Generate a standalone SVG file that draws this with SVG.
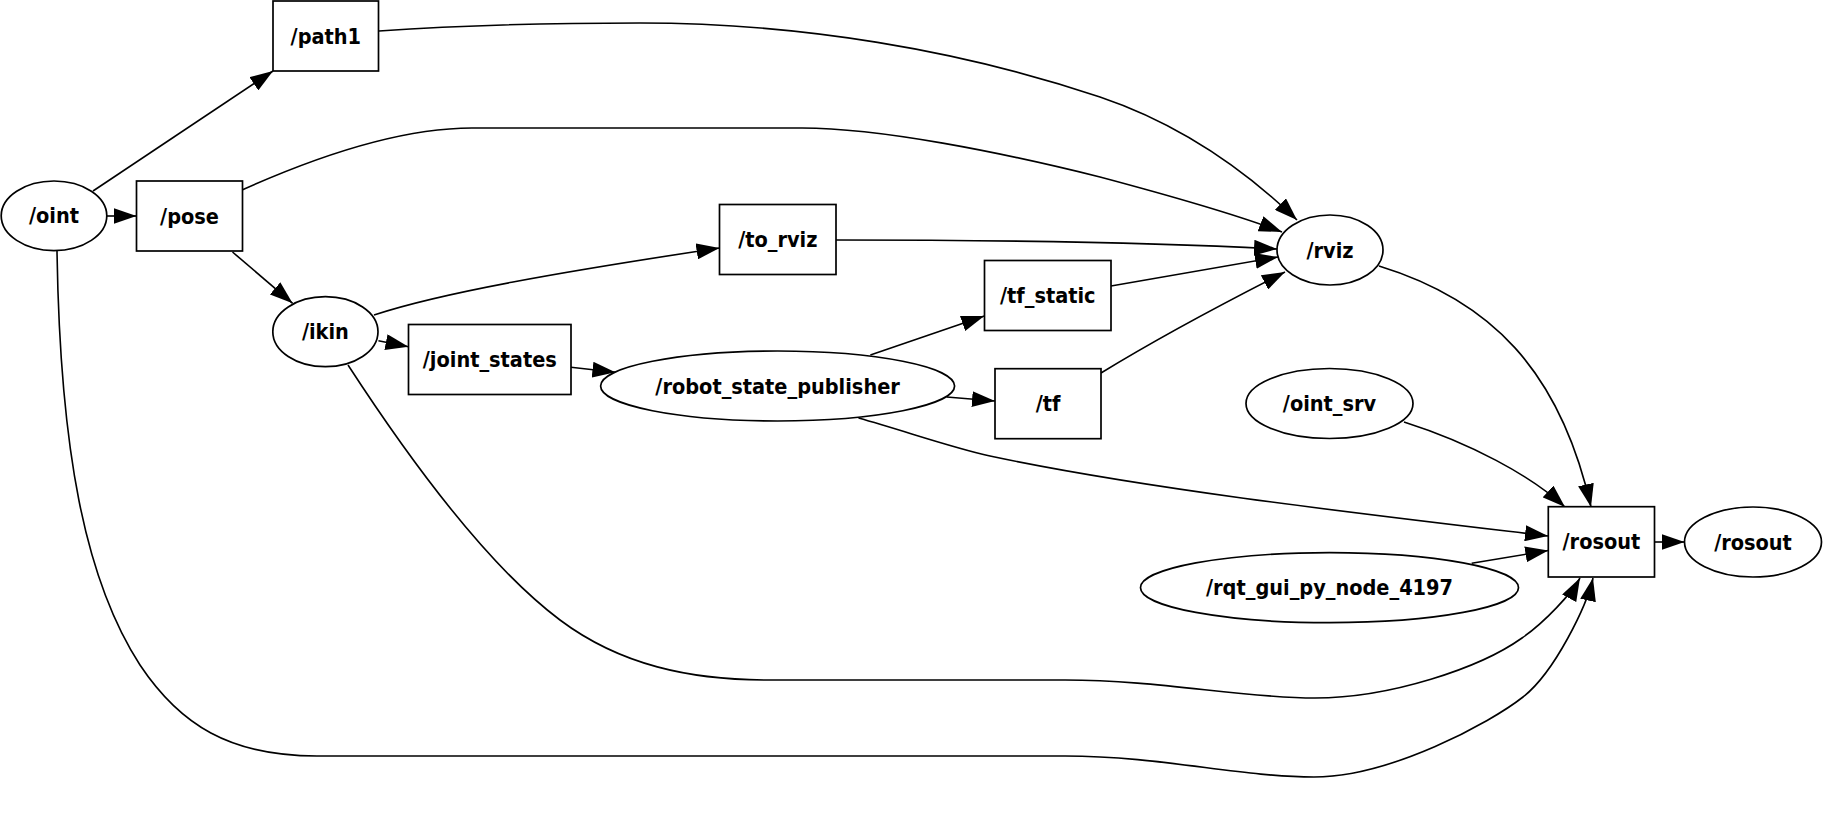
<svg xmlns="http://www.w3.org/2000/svg" width="1824" height="828" viewBox="0 0 1824 828">
<style>
.n{fill:#fff;stroke:#000;stroke-width:1.7}
.t{font-family:"DejaVu Sans Condensed","DejaVu Sans",sans-serif;font-stretch:condensed;font-weight:bold;font-size:21.5px;text-anchor:middle;fill:#000}
.e{fill:none;stroke:#000;stroke-width:1.6;marker-end:url(#ah)}
</style>
<defs>
<marker id="ah" markerUnits="userSpaceOnUse" markerWidth="23" markerHeight="16" viewBox="0 0 23 16" refX="23" refY="8" orient="auto">
<path d="M0,0 L23,8 L0,16 Z" fill="#000"/>
</marker>
</defs>
<rect width="1824" height="828" fill="#fff"/>
<g id="edges">
<path class="e" d="M93,191 L273,71"/>
<path class="e" d="M107,216 L136.5,216"/>
<path class="e" d="M57,251 C60,450 85,580 140,665 C180,725 230,756 317,756 L1065,756 C1160,756 1240,777 1314,777 C1390,777 1490,723 1523,697 C1555,672 1587,605 1593,578"/>
<path class="e" d="M232.5,252 L292.6,303.3"/>
<path class="e" d="M242,190 C320,155 400,128 472,128 L802,128 C880,128 1000,152 1100,177 C1160,193 1230,212 1282,232"/>
<path class="e" d="M379,31 C480,24 560,23 640,23 C800,23 960,50 1100,97 C1180,124 1245,170 1297,220"/>
<path class="e" d="M374,315 C440,293 560,272 719.5,248"/>
<path class="e" d="M378.4,340.7 L408.5,346.7"/>
<path class="e" d="M571,367.3 L615.4,372.3"/>
<path class="e" d="M348,365 C400,445 480,560 560,620 C620,665 690,680 768,680 L1065,680 C1160,680 1240,698 1315,698 C1390,698 1480,668 1522,638 C1545,622 1572,593 1580,578"/>
<path class="e" d="M870.4,355 L984.3,316"/>
<path class="e" d="M946.7,397 L995,401"/>
<path class="e" d="M858.5,418 C905,431 950,447 990,456 C1150,490 1380,516 1548,536"/>
<path class="e" d="M836,240 C1000,240 1150,242 1277,249"/>
<path class="e" d="M1111,286 L1278,257"/>
<path class="e" d="M1101,373 C1150,343 1220,305 1285,272"/>
<path class="e" d="M1379,266 C1490,300 1560,370 1591,507"/>
<path class="e" d="M1404,422 C1470,443 1530,475 1565,507"/>
<path class="e" d="M1471.7,563.3 L1548.3,550.5"/>
<path class="e" d="M1654.5,542 L1684.5,542"/>
</g>
<g id="path1"><rect class="n" x="273" y="1" width="105.5" height="70"/><text class="t" x="325.8" y="43.5">/path1</text></g>
<g id="oint"><ellipse class="n" cx="54" cy="215.8" rx="52.8" ry="34.8"/><text class="t" x="54" y="223.3">/oint</text></g>
<g id="pose"><rect class="n" x="136.5" y="181" width="106" height="70"/><text class="t" x="189.5" y="223.5">/pose</text></g>
<g id="ikin"><ellipse class="n" cx="325.4" cy="331.7" rx="52.6" ry="35"/><text class="t" x="325.4" y="339.2">/ikin</text></g>
<g id="joint_states"><rect class="n" x="408.5" y="324.5" width="162.5" height="70"/><text class="t" x="489.8" y="367">/joint_states</text></g>
<g id="to_rviz"><rect class="n" x="719.5" y="204.5" width="116.5" height="70"/><text class="t" x="777.8" y="247">/to_rviz</text></g>
<g id="tf_static"><rect class="n" x="984.5" y="260.5" width="126.5" height="70"/><text class="t" x="1047.8" y="303">/tf_static</text></g>
<g id="tf"><rect class="n" x="995" y="368.7" width="106" height="70"/><text class="t" x="1048" y="411.2">/tf</text></g>
<g id="robot_state_publisher"><ellipse class="n" cx="777.6" cy="386" rx="177" ry="35"/><text class="t" x="777.6" y="393.5">/robot_state_publisher</text></g>
<g id="rviz"><ellipse class="n" cx="1330" cy="250" rx="53" ry="35"/><text class="t" x="1330" y="257.5">/rviz</text></g>
<g id="oint_srv"><ellipse class="n" cx="1329.5" cy="403.5" rx="83.5" ry="35"/><text class="t" x="1329.5" y="411">/oint_srv</text></g>
<g id="rosout_topic"><rect class="n" x="1548.3" y="506.7" width="106.2" height="70.3"/><text class="t" x="1601.4" y="549.3">/rosout</text></g>
<g id="rosout_node"><ellipse class="n" cx="1753" cy="542" rx="68.5" ry="35"/><text class="t" x="1753" y="549.5">/rosout</text></g>
<g id="rqt_gui_py_node_4197"><ellipse class="n" cx="1329.5" cy="587.7" rx="189" ry="35"/><text class="t" x="1329.5" y="595.2">/rqt_gui_py_node_4197</text></g>
</svg>
